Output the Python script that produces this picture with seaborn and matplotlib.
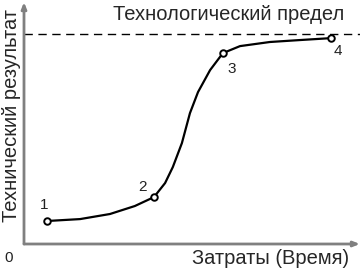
import matplotlib
matplotlib.use("Agg")
import matplotlib.pyplot as plt
import seaborn as sns
import pandas as pd

# S-curve (axis units 0..100)
cost = [6.8, 16.7, 25.6, 33.0, 38.7, 42.0, 44.3, 47.0, 49.4, 51.8, 55.4, 59.2, 64.3, 73.2, 82.1, 91.4]
result = [9.5, 10.3, 12.4, 15.7, 19.4, 25.2, 31.8, 41.7, 54.1, 62.8, 71.9, 78.9, 81.8, 83.5, 84.3, 85.1]
marked = [0, 4, 11, 15]
point_labels = ["1", "2", "3", "4"]
limit = 86.8

sns.set_theme(style="white")
plt.rcParams["font.family"] = ["Liberation Sans", "DejaVu Sans"]

df = pd.DataFrame({"cost": cost, "result": result})
pts = df.iloc[marked].copy()
pts["label"] = point_labels

fig = plt.figure(figsize=(3.62, 2.70), dpi=100)
ax = fig.add_axes([0.0663, 0.0963, 0.928, 0.896])

sns.lineplot(data=df, x="cost", y="result", ax=ax, color="black", lw=1.6, sort=False)
sns.scatterplot(data=pts, x="cost", y="result", ax=ax, s=22, color="white",
                edgecolor="black", linewidth=1.4, zorder=5)
ax.axhline(limit, color="black", lw=1, ls=(0, (6, 4)))

offsets = [(-0.8, 6.5), (-3.5, 4.0), (2.5, -6.5), (2.0, -5.5)]
for (_, r), (dx, dy) in zip(pts.iterrows(), offsets):
    ax.text(r["cost"] + dx, r["result"] + dy, r["label"], fontsize=11,
            ha="center", va="center", color="#222222")

ax.text(60.9, 95.0, "Технологический предел", fontsize=14.5, ha="center", va="center")

ax.set_xlim(0, 100)
ax.set_ylim(0, 100)
ax.set_xticks([])
ax.set_yticks([])
ax.set_xlabel("")
ax.set_ylabel("")
for s in ax.spines.values():
    s.set_visible(False)

# axes with arrows
ax.annotate("", xy=(1.0, 0), xytext=(0, 0), xycoords="axes fraction",
            arrowprops=dict(arrowstyle="-|>,head_length=0.3,head_width=0.12",
                            color="#808080", lw=2, shrinkA=0, shrinkB=0))
ax.annotate("", xy=(0, 1.0), xytext=(0, 0), xycoords="axes fraction",
            arrowprops=dict(arrowstyle="-|>,head_length=0.3,head_width=0.12",
                            color="#808080", lw=2, shrinkA=0, shrinkB=0))

fig.text(9 / 362, 1 - 258 / 270, "0", fontsize=11, ha="center", va="center", color="#222222")
fig.text(271 / 362, 1 - 258 / 270, "Затраты (Время)", fontsize=14.5, ha="center", va="center")
fig.text(12 / 362, 1 - 116 / 270, "Технический результат", fontsize=14.5,
         ha="center", va="center", rotation=90)

fig.savefig("out.png", dpi=100)
